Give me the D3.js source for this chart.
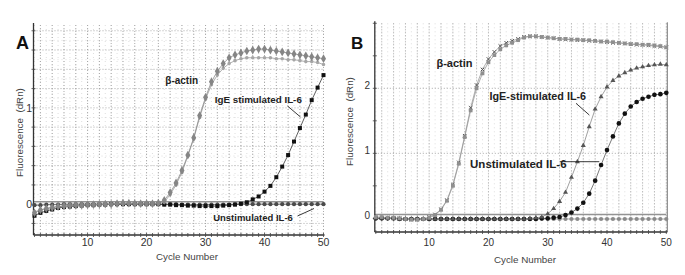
<!DOCTYPE html>
<html>
<head>
<meta charset="utf-8">
<script src="https://cdn.jsdelivr.net/npm/d3@7"></script>
<style>
body { margin: 0; background: #fff; }
text { font-family: "Liberation Sans", Arial, sans-serif; }
</style>
</head>
<body>
<svg id="graph" width="685" height="275"></svg>
<script>
// cycle numbers (x categories)
var cycles = [1,2,3,4,5,6,7,8,9,10,11,12,13,14,15,16,17,18,19,20,21,22,23,24,25,
              26,27,28,29,30,31,32,33,34,35,36,37,38,39,40,41,42,43,44,45,46,47,48,49,50];
var xTickLabels = [10, 20, 30, 40, 50];
var yTickLabelsA = [0, 1];
var yTickLabelsB = [0, 1, 2];

// panel A series
var actinA1 = [-0.09,-0.06,-0.045,-0.035,-0.025,-0.02,-0.015,-0.01,-0.01,-0.005,
               -0.005,0,0,0,0.005,0.01,0.01,0.005,0.005,0.005,
               0.005,0.01,0.04,0.12,0.22,0.35,0.51,0.69,0.92,1.11,
               1.27,1.38,1.46,1.52,1.55,1.57,1.59,1.60,1.61,1.61,
               1.60,1.59,1.58,1.57,1.56,1.55,1.54,1.53,1.52,1.51];
var actinA2 = [-0.08,-0.06,-0.045,-0.035,-0.025,-0.02,-0.015,-0.01,-0.01,-0.005,
               -0.005,0,0,0,0,0.005,0.005,0.005,0,0,
               0,0.005,0.02,0.1,0.2,0.33,0.5,0.68,0.9,1.09,
               1.24,1.34,1.41,1.46,1.49,1.51,1.52,1.52,1.52,1.52,
               1.52,1.51,1.51,1.50,1.50,1.49,1.48,1.48,1.47,1.45];
var igeA = [-0.12,-0.09,-0.07,-0.055,-0.04,-0.03,-0.025,-0.02,-0.015,-0.01,
            -0.01,-0.005,-0.005,0,0,0,0,0,0,0,
            0,0,-0.005,-0.005,-0.01,-0.01,-0.015,-0.015,-0.02,-0.02,
            -0.02,-0.02,-0.015,-0.01,-0.005,0.005,0.02,0.05,0.08,0.13,
            0.19,0.28,0.39,0.51,0.65,0.79,0.93,1.08,1.21,1.34];
var unstimA = [-0.01,-0.01,-0.005,-0.005,-0.005,0,0,0,0,0,
               0,0,0,0,0,0,0,0,0,0,
               0,0,0,0,0,-0.005,-0.005,-0.005,-0.005,-0.005,
               -0.005,-0.005,-0.005,-0.005,0,0,0,0,0,0,
               0,0,0,0,0,0,0,0,0,0];
var thresholdA = 0.025;

// panel B series
var actinB1 = [0.02,0.02,0.01,0.01,0,-0.01,-0.02,-0.02,-0.01,0.01,
               0.05,0.13,0.27,0.5,0.84,1.25,1.66,2.0,2.23,2.40,
               2.51,2.60,2.66,2.70,2.74,2.78,2.80,2.80,2.79,2.78,
               2.77,2.76,2.76,2.75,2.75,2.74,2.74,2.73,2.72,2.72,
               2.71,2.70,2.69,2.68,2.68,2.67,2.67,2.66,2.65,2.63];
var actinB2 = [0.01,0.01,0.01,0,0,-0.01,-0.02,-0.02,-0.01,0.02,
               0.06,0.14,0.28,0.52,0.86,1.27,1.70,2.05,2.29,2.45,
               2.56,2.65,2.70,2.73,2.76,2.79,2.80,2.80,2.79,2.78,
               2.77,2.76,2.75,2.75,2.74,2.74,2.73,2.73,2.72,2.71,
               2.70,2.70,2.69,2.68,2.67,2.67,2.66,2.65,2.64,2.63];
var igeB = [0,0,0,0,-0.01,-0.01,-0.01,-0.01,-0.01,-0.01,
            -0.01,-0.01,-0.01,-0.01,-0.01,-0.01,-0.01,-0.01,-0.01,-0.01,
            -0.01,-0.01,-0.01,-0.01,-0.01,-0.01,0,0.01,0.02,0.07,
            0.15,0.26,0.40,0.63,0.87,1.12,1.41,1.68,1.87,2.02,
            2.12,2.19,2.24,2.28,2.31,2.33,2.35,2.36,2.37,2.36];
var unstimB = [0,0,0,0,-0.01,-0.01,-0.01,-0.01,-0.01,-0.01,
               -0.01,-0.01,-0.01,-0.01,-0.01,-0.01,-0.01,-0.01,-0.01,-0.01,
               -0.01,-0.01,-0.01,-0.01,-0.01,-0.01,-0.01,-0.01,0,0,
               0.01,0.02,0.05,0.09,0.15,0.24,0.38,0.58,0.82,1.05,
               1.26,1.46,1.61,1.72,1.79,1.84,1.87,1.90,1.91,1.93];
var flatB = [0,0,0,0,-0.01,-0.01,-0.01,-0.01,-0.01,-0.01,
             -0.01,-0.01,-0.01,-0.01,-0.01,-0.01,-0.01,-0.01,-0.01,-0.01,
             -0.01,-0.01,-0.01,-0.01,-0.01,-0.01,-0.01,-0.01,-0.01,-0.01,
             -0.01,-0.01,-0.01,-0.01,-0.01,-0.01,-0.01,-0.01,-0.01,-0.01,
             -0.01,-0.01,-0.01,-0.01,-0.01,-0.01,-0.01,-0.01,-0.01,-0.01];
var thresholdB = 0.06;

var svg = d3.select("#graph");

function drawPanel(p) {
    var g = svg.append("g");
    var x = d3.scaleLinear().domain([1, 50]).range(p.xr);
    var y = d3.scaleLinear().domain(p.yd).range(p.yr);
    var left = p.xr[0] - 1, right = p.xr[1], top = p.yr[1], bottom = p.yr[0];

    // faint minor grid (every cycle)
    g.selectAll(".vmin").data(cycles).enter().append("line")
        .attr("x1", d => x(d)).attr("x2", d => x(d))
        .attr("y1", top).attr("y2", bottom)
        .attr("stroke", "#d0d0d0").attr("stroke-width", 0.7)
        .attr("stroke-dasharray", "1,3");
    // major vertical grid (every 2 cycles)
    g.selectAll(".vmaj").data(cycles.filter(c => c % 2 == 0)).enter().append("line")
        .attr("x1", d => x(d)).attr("x2", d => x(d))
        .attr("y1", top).attr("y2", bottom)
        .attr("stroke", "#959595").attr("stroke-width", 0.8)
        .attr("stroke-dasharray", "1,2");
    // horizontal grid
    if (p.hminor) {
        g.selectAll(".hmin").data(p.hminor).enter().append("line")
            .attr("x1", left).attr("x2", right)
            .attr("y1", d => y(d)).attr("y2", d => y(d))
            .attr("stroke", "#d0d0d0").attr("stroke-width", 0.7)
            .attr("stroke-dasharray", "1,3");
    }
    g.selectAll(".hmaj").data(p.hgrid).enter().append("line")
        .attr("x1", left).attr("x2", right)
        .attr("y1", d => y(d)).attr("y2", d => y(d))
        .attr("stroke", "#959595").attr("stroke-width", 0.8)
        .attr("stroke-dasharray", "1,2");

    // threshold line
    g.append("line")
        .attr("x1", left).attr("x2", right)
        .attr("y1", y(p.threshold)).attr("y2", y(p.threshold))
        .attr("stroke", "#939393").attr("stroke-width", 1.4);

    if (p.rightBorder) {
        g.append("line")
            .attr("x1", right + 1).attr("x2", right + 1)
            .attr("y1", top - 1).attr("y2", bottom)
            .attr("stroke", "#777").attr("stroke-width", 1);
    }

    // axes
    g.append("line").attr("x1", left).attr("x2", left).attr("y1", top - 2).attr("y2", bottom)
        .attr("stroke", "#333").attr("stroke-width", 1.3);
    g.append("line").attr("x1", left).attr("x2", right + 1).attr("y1", bottom).attr("y2", bottom)
        .attr("stroke", "#333").attr("stroke-width", 1.3);
    g.selectAll(".xt").data(cycles).enter().append("line")
        .attr("x1", d => x(d)).attr("x2", d => x(d))
        .attr("y1", bottom - 2).attr("y2", bottom + 2)
        .attr("stroke", "#444").attr("stroke-width", 0.8);
    g.selectAll(".yt").data(p.yminorTicks).enter().append("line")
        .attr("x1", left - 2).attr("x2", left + 2)
        .attr("y1", d => y(d)).attr("y2", d => y(d))
        .attr("stroke", "#444").attr("stroke-width", 0.8);

    g.selectAll(".xl").data(xTickLabels).enter().append("text")
        .attr("x", d => x(d)).attr("y", 245.5)
        .attr("text-anchor", "middle")
        .attr("font-size", p.tickSize).attr("fill", "#333")
        .text(d => d);
    g.selectAll(".yl").data(p.yLabels).enter().append("text")
        .attr("x", p.yLabelX).attr("y", d => y(d) + p.yLabelDy)
        .attr("text-anchor", "end")
        .attr("font-size", p.tickSize).attr("fill", "#333")
        .text(d => d);

    // titles
    g.append("text").attr("x", p.xTitle[0]).attr("y", p.xTitle[1])
        .attr("text-anchor", "middle").attr("font-size", p.titleSize).attr("fill", "#444")
        .text("Cycle Number");
    g.append("text")
        .attr("transform", "translate(" + p.yTitle[0] + "," + p.yTitle[1] + ") rotate(-90)")
        .attr("text-anchor", "middle").attr("font-size", p.titleSize).attr("fill", "#444")
        .attr("xml:space", "preserve")
        .text("Fluorescence  (dRn)");
    g.append("text").attr("x", p.letterPos[0]).attr("y", p.letterPos[1])
        .attr("font-size", p.letterSize).attr("font-weight", "bold").attr("fill", "#111")
        .text(p.letter);

    // series
    var line = d3.line().x((d, i) => x(cycles[i])).y(d => y(d));
    p.series.forEach(function (s) {
        g.append("path").datum(s.values)
            .attr("d", line)
            .attr("fill", "none")
            .attr("stroke", s.lineColor).attr("stroke-width", 0.8);
    });
    p.series.forEach(function (s) {
        g.selectAll(null).data(s.values).enter().append("path")
            .attr("transform", (d, i) => "translate(" + x(cycles[i]) + "," + y(d) + ")")
            .attr("d", d3.symbol().type(s.symbol).size(s.size))
            .attr("fill", s.fill)
            .attr("stroke", s.stroke || "none")
            .attr("stroke-width", s.strokeWidth || 0);
    });

    // annotations
    p.notes.forEach(function (n) {
        g.append("text").attr("x", n.x).attr("y", n.y)
            .attr("text-anchor", "middle").attr("font-size", n.size)
            .attr("font-weight", "bold").attr("fill", "#222")
            .text(n.text);
        if (n.leader) {
            g.append("line")
                .attr("x1", n.leader[0]).attr("y1", n.leader[1])
                .attr("x2", n.leader[2]).attr("y2", n.leader[3])
                .attr("stroke", "#222").attr("stroke-width", 0.9);
        }
    });
}

drawPanel({
    letter: "A", letterPos: [16, 49], letterSize: 18,
    xr: [34.5, 323.5], yd: [-0.32, 1.86], yr: [235, 25],
    hgrid: [-0.2, 0, 0.2, 0.4, 0.6, 0.8, 1.0, 1.2, 1.4, 1.6, 1.8],
    hminor: [-0.3, -0.1, 0.1, 0.3, 0.5, 0.7, 0.9, 1.1, 1.3, 1.5, 1.7],
    yminorTicks: [-0.2, 0, 0.2, 0.4, 0.6, 0.8, 1.0, 1.2, 1.4, 1.6, 1.8],
    yLabels: yTickLabelsA, yLabelX: 32, yLabelDy: 4, tickSize: 10.5, titleSize: 9.8,
    xTitle: [187, 260], yTitle: [23, 132.5],
    threshold: thresholdA, rightBorder: false,
    series: [
        { values: unstimA, symbol: d3.symbolCircle, size: 14, fill: "#4a4a4a", lineColor: "#555" },
        { values: igeA, symbol: d3.symbolSquare, size: 16, fill: "#111", lineColor: "#333" },
        { values: actinA2, symbol: d3.symbolCircle, size: 10, fill: "#a6a6a6", lineColor: "#9a9a9a" },
        { values: actinA1, symbol: d3.symbolDiamond, size: 22, fill: "#858585", lineColor: "#8a8a8a" }
    ],
    notes: [
        { text: "β-actin", x: 181.7, y: 84, size: 10 },
        { text: "IgE stimulated IL-6", x: 258.3, y: 103, size: 9.8, leader: [287.5, 106, 300.5, 117] },
        { text: "Unstimulated IL-6", x: 253, y: 221, size: 9.5, leader: [297.5, 216, 314, 208.5] }
    ]
});

drawPanel({
    letter: "B", letterPos: [351, 49], letterSize: 17,
    xr: [375.8, 666.3], yd: [-0.21, 3.0], yr: [232, 23.3],
    hgrid: [1, 2],
    hminor: null,
    yminorTicks: [0, 0.5, 1, 1.5, 2, 2.5, 3],
    yLabels: yTickLabelsB, yLabelX: 370, yLabelDy: 1, tickSize: 10, titleSize: 9.8,
    xTitle: [525, 262.5], yTitle: [353, 121.5],
    threshold: thresholdB, rightBorder: true,
    series: [
        { values: flatB, symbol: d3.symbolCircle, size: 14, fill: "#8a8a8a", lineColor: "#999" },
        { values: unstimB, symbol: d3.symbolCircle, size: 17, fill: "#111", lineColor: "#555" },
        { values: igeB, symbol: d3.symbolTriangle, size: 11, fill: "#555", lineColor: "#888" },
        { values: actinB2, symbol: d3.symbolX, size: 10, fill: "none", stroke: "#555", strokeWidth: 1, lineColor: "#999" },
        { values: actinB1, symbol: d3.symbolSquare, size: 14, fill: "#8f8f8f", lineColor: "#999" }
    ],
    notes: [
        { text: "β-actin", x: 454.5, y: 67.3, size: 11 },
        { text: "IgE-stimulated IL-6", x: 537.8, y: 99.7, size: 10.8, leader: [576, 103.3, 589.3, 115] },
        { text: "Unstimulated IL-6", x: 518.3, y: 167.8, size: 11.5, leader: [560, 161.7, 599.3, 161.7] }
    ]
});
</script>
</body>
</html>
